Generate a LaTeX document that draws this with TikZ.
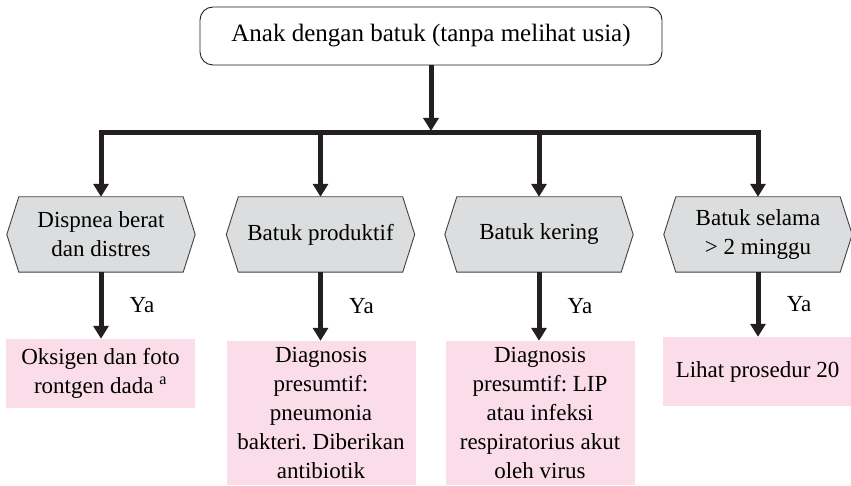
\documentclass[tikz,border=0pt]{standalone}
\usepackage{fontspec}
\setmainfont{Liberation Serif}
\newfontfamily\bodyfont{Liberation Serif}
\frenchspacing
\usetikzlibrary{calc,arrows.meta}
\pgfdeclarelayer{background}
\pgfsetlayers{background,main}
\definecolor{ink}{RGB}{35,31,32}
\definecolor{hexgray}{RGB}{220,221,222}
\definecolor{pinkfill}{RGB}{250,221,232}
\begin{document}
\begin{tikzpicture}[x=1pt,y=-1pt,
  conn/.style={draw=ink,line width=5pt},
  arr/.style={conn,-{Triangle[length=13pt,width=15pt]}},
  startbox/.style={draw=ink,line width=0.9pt,rounded corners=13pt,fill=white,
    minimum width=462pt,minimum height=58pt,inner sep=0pt,
    font=\bodyfont\fontsize{25}{30}\selectfont},
  hexcore/.style={minimum width=164pt,minimum height=75pt,inner sep=0pt,
    align=center,font=\bodyfont\fontsize{23}{29}\selectfont},
  hexline/.style={draw=ink!85,line width=0.9pt,fill=hexgray},
  result/.style={fill=pinkfill,minimum width=189pt,inner sep=0pt,
    align=center,font=\bodyfont\fontsize{23}{29}\selectfont},
  yes/.style={font=\bodyfont\fontsize{23}{27}\selectfont,inner sep=0pt}]
\useasboundingbox (0,0) rectangle (851,486);

% start box
\node[startbox] (start) at (431,36) {Anak dengan batuk (tanpa melihat usia)};

% questions (hexagons)
\node[hexcore] (h1) at (101,234.5) {Dispnea berat\\dan distres};
\node[hexcore] (h2) at (320.5,234.5) {Batuk produktif};
\node[hexcore] (h3) at (539,234.5) {Batuk kering};
\node[hexcore] (h4) at (758,234.5) {Batuk selama\\> 2 minggu};
\begin{pgfonlayer}{background}
  \foreach \h in {h1,h2,h3,h4}
    \draw[hexline] (\h.north west) -- (\h.north east) -- ($(\h.east)+(12,0)$)
      -- (\h.south east) -- (\h.south west) -- ($(\h.west)+(-12,0)$) -- cycle;
\end{pgfonlayer}

% outcomes
\node[result,minimum height=69pt] (r1) at (100.5,373.5) {Oksigen dan foto\\rontgen dada \textsuperscript{a}};
\node[result,minimum height=144pt] (r2) at (321,413) {Diagnosis\\presumtif:\\pneumonia\\bakteri. Diberikan\\antibiotik};
\node[result,minimum height=144pt] (r3) at (540,413) {Diagnosis\\presumtif: LIP\\atau infeksi\\respiratorius akut\\oleh virus};
\node[result,minimum height=69pt] (r4) at (757.5,371.5) {Lihat prosedur 20};

% distribution bar
\coordinate (bar) at (431,133);
\draw[arr,shorten >=2pt] (start.south) -- (bar);
\draw[conn,line cap=rect] (h1 |- bar) -- (h4 |- bar);
\foreach \h in {h1,h2,h3,h4}
  \draw[arr] (\h |- bar) -- (\h.north);

% yes branches
\foreach \h/\r in {h1/r1,h2/r2,h3/r3,h4/r4}{
  \draw[arr] (\h.south) -- (\h.south |- \r.north);
  \node[yes] at ($(\h.south)!0.5!(\h.south |- \r.north)+(41,0)$) {Ya};
}
\end{tikzpicture}
\end{document}
